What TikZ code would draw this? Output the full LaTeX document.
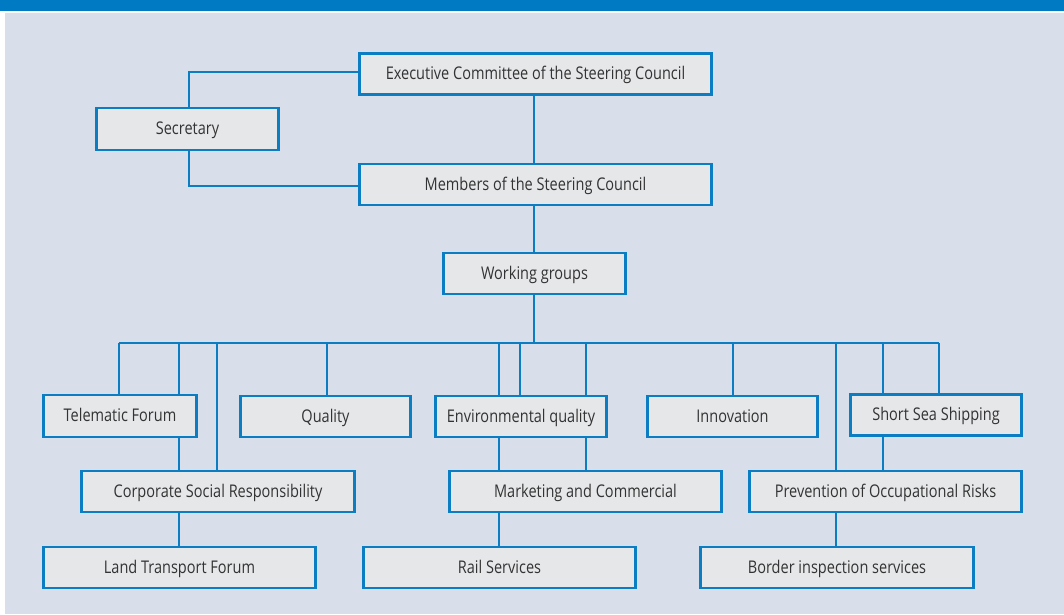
\documentclass[tikz,border=0pt]{standalone}
\usepackage{fontspec}
\setmainfont{Open Sans}[FakeStretch=0.83]
\definecolor{barblue}{HTML}{007AC2}
\definecolor{lineblue}{HTML}{0A7DC3}
\definecolor{bgcol}{HTML}{D8DFEA}
\definecolor{boxfill}{HTML}{E6E7E9}
\definecolor{txtcol}{HTML}{333333}
\tikzset{
  orgbox/.style={draw=lineblue, line width=2.6pt, fill=boxfill, text=txtcol,
    minimum height=41pt, inner sep=0pt, text height=15pt, text depth=3.5pt,
    font=\fontsize{17.5}{20}\selectfont},
  conn/.style={draw=lineblue, line width=2.3pt}
}
\begin{document}
\begin{tikzpicture}[x=1pt,y=-1pt]
\useasboundingbox (0,0) rectangle (1064,614);
\fill[white] (0,0) rectangle (1064,614);
\fill[barblue] (0,0) rectangle (1064,10.7);
\fill[bgcol] (5,13.3) rectangle (1064,614);

% named coordinates for the connector bends and the bus
\coordinate (busL) at (119,343);
\coordinate (busR) at (939,343);
\coordinate (secL) at (189,72);
\coordinate (secB) at (189,186);

% nodes
\node[orgbox, minimum width=352pt] (exec) at (535.5,74) {Executive Committee of the Steering Council};
\node[orgbox, minimum width=182pt, minimum height=42pt] (sec) at (187.5,129) {Secretary};
\node[orgbox, minimum width=352pt] (mem) at (535.5,184.5) {Members of the Steering Council};
\node[orgbox, minimum width=182pt] (wg) at (534.5,273.5) {Working groups};

\node[orgbox, minimum width=153pt, minimum height=42pt] (tel) at (120,416) {Telematic Forum};
\node[orgbox, minimum width=170pt] (qual) at (325.5,416.5) {Quality};
\node[orgbox, minimum width=171pt] (env) at (521,416.5) {Environmental quality};
\node[orgbox, minimum width=170pt] (inn) at (732.5,416.5) {Innovation};
\node[orgbox, minimum width=171pt] (sss) at (936,415) {Short Sea Shipping};

\node[orgbox, minimum width=273pt] (csr) at (218,491.5) {Corporate Social Responsibility};
\node[orgbox, minimum width=272pt] (mkt) at (585.5,491.5) {Marketing and Commercial};
\node[orgbox, minimum width=272pt] (prev) at (885.5,491.5) {Prevention of Occupational Risks};

\node[orgbox, minimum width=272pt] (land) at (179.5,567.5) {Land Transport Forum};
\node[orgbox, minimum width=272pt] (rail) at (499.5,567.5) {Rail Services};
\node[orgbox, minimum width=273pt] (border) at (837,567.5) {Border inspection services};

% connectors
\draw[conn] (exec.south -| 534,0) -- (mem.north -| 534,0);
\draw[conn] (exec.west |- secL) -- (secL) -- (secL |- sec.north);
\draw[conn] (secB |- sec.south) -- (secB) -- (mem.west |- secB);
\draw[conn] (mem.south -| 534,0) -- (wg.north -| 534,0);
\draw[conn] (wg.south -| 534,0) -- (534,343);
\draw[conn] (busL) -- (busR);

\foreach \x/\n in {119/tel,179/tel,217/csr,327/qual,499/env,520/env,586/env,733/inn,836/prev,883/sss,939/sss}{
  \draw[conn] (\x,343) -- (\n.north -| \x,0);
}
\draw[conn] (tel.south -| 179,0) -- (csr.north -| 179,0);
\draw[conn] (csr.south -| 179,0) -- (land.north -| 179,0);
\draw[conn] (env.south -| 499,0) -- (mkt.north -| 499,0);
\draw[conn] (env.south -| 586,0) -- (mkt.north -| 586,0);
\draw[conn] (mkt.south -| 499,0) -- (rail.north -| 499,0);
\draw[conn] (sss.south -| 883,0) -- (prev.north -| 883,0);
\draw[conn] (prev.south -| 836,0) -- (border.north -| 836,0);
\end{tikzpicture}
\end{document}
